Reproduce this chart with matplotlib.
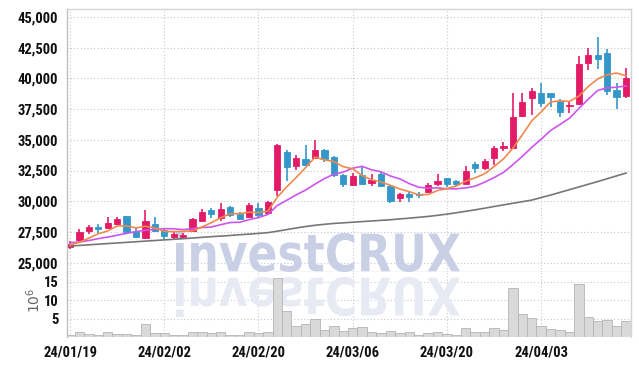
import matplotlib.pyplot as plt
import matplotlib.transforms as mtransforms
from matplotlib.font_manager import FontProperties
from matplotlib.patches import PathPatch
from matplotlib.textpath import TextPath

# trading days (yy/mm/dd)
dates = ['24/01/19', '24/01/22', '24/01/23', '24/01/24', '24/01/25', '24/01/26', '24/01/29', '24/01/30',
         '24/01/31', '24/02/01', '24/02/02', '24/02/05', '24/02/06', '24/02/07', '24/02/08', '24/02/13',
         '24/02/14', '24/02/15', '24/02/16', '24/02/19', '24/02/20', '24/02/21', '24/02/22', '24/02/23',
         '24/02/26', '24/02/27', '24/02/28', '24/02/29', '24/03/04', '24/03/05', '24/03/06', '24/03/07',
         '24/03/08', '24/03/11', '24/03/12', '24/03/13', '24/03/14', '24/03/15', '24/03/18', '24/03/19',
         '24/03/20', '24/03/21', '24/03/22', '24/03/25', '24/03/26', '24/03/27', '24/03/28', '24/03/29',
         '24/04/01', '24/04/02', '24/04/03', '24/04/04', '24/04/05', '24/04/08', '24/04/09', '24/04/11',
         '24/04/12', '24/04/15', '24/04/16', '24/04/17']

opens = [26250, 26850, 27600, 27900, 27850, 28170, 28800, 27570, 27030, 28140,
         27650, 27080, 27110, 27570, 28410, 29260, 28600, 29530, 28980, 28690,
         29450, 29020, 30940, 34000, 32890, 33440, 33540, 34170, 33600, 32130,
         31340, 32110, 31510, 32240, 31240, 30290, 30610, 30590, 30730, 31380,
         31890, 31650, 31430, 33000, 32730, 33490, 34360, 34360, 36970, 38380,
         38810, 38810, 38160, 37750, 37890, 41230, 41910, 42070, 39050, 38590]
highs = [26800, 27700, 28100, 28150, 28700, 28700, 28800, 27800, 29280, 28700,
         27750, 27500, 27400, 28610, 29340, 29470, 29880, 29590, 29100, 29830,
         29850, 29990, 34630, 34170, 33740, 34550, 34960, 34230, 33680, 32220,
         32270, 32760, 32240, 32480, 31320, 30690, 30780, 30780, 31460, 32190,
         31920, 31700, 32890, 33220, 33410, 34470, 34800, 38790, 38790, 39190,
         39600, 38850, 38320, 38050, 41850, 42450, 43400, 42390, 39630, 40820]
lows = [26100, 26650, 27300, 27450, 27750, 28100, 27480, 27000, 26950, 27470,
        26950, 26950, 27030, 27490, 28330, 28610, 28400, 28700, 28560, 28610,
        28630, 28930, 30420, 31620, 32570, 32840, 33440, 33220, 31970, 31180,
        31260, 31300, 31240, 31180, 29880, 29910, 29910, 30240, 30640, 31210,
        31180, 31260, 31380, 32270, 32540, 32950, 34090, 34310, 36860, 37020,
        37650, 37700, 36830, 37160, 37830, 40680, 40740, 38650, 37480, 38380]
closes = [26500, 27500, 27900, 27750, 28230, 28550, 27500, 27110, 28390, 27550,
          27200, 27350, 27270, 28550, 29120, 28980, 29370, 28880, 28580, 29690,
          28880, 29910, 34580, 32790, 33490, 32920, 34170, 33440, 32130, 31400,
          32050, 31430, 31730, 31240, 30020, 30560, 30340, 30480, 31320, 31640,
          31380, 31380, 32460, 32680, 33270, 34310, 34500, 36860, 38050, 38970,
          38020, 38510, 37290, 37830, 41150, 41910, 41600, 39000, 38510, 40060]
volume = [600000, 1500000, 950000, 600000, 1500000, 950000, 1000000, 600000, 3650000, 1200000,
          1200000, 600000, 600000, 1500000, 1500000, 1200000, 1500000, 600000, 600000, 1500000,
          1200000, 1500000, 16000000, 7200000, 3100000, 3650000, 4900000, 2000000, 3100000, 1750000,
          2500000, 2750000, 1500000, 1200000, 1750000, 1200000, 1500000, 600000, 1200000, 1500000,
          950000, 600000, 2500000, 1500000, 1500000, 2500000, 2000000, 13300000, 6350000, 5300000,
          3100000, 2300000, 2000000, 1500000, 14450000, 5550000, 4450000, 4700000, 3100000, 4450000]

# moving averages as drawn on the chart
ma5 = [26450, 26650, 27000, 27350, 27576, 27986, 27986, 27828, 27956, 27820,
       27550, 27520, 27552, 27584, 27898, 28254, 28658, 28980, 28986, 29100,
       29080, 29188, 30328, 31170, 31930, 32738, 33590, 33362, 33230, 32812,
       32638, 32090, 31748, 31570, 31294, 30996, 30778, 30528, 30544, 30868,
       31032, 31240, 31636, 31908, 32234, 32820, 33444, 34324, 35398, 36538,
       37280, 38082, 38168, 38124, 38560, 39338, 39956, 40298, 40434, 40216]
ma10 = [26620, 26680, 26800, 26950, 27080, 27230, 27380, 27520, 27640, 27698,
        27768, 27753, 27690, 27770, 27859, 27902, 28089, 28266, 28285, 28499,
        28667, 28923, 29654, 30078, 30515, 30909, 31389, 31845, 32200, 32371,
        32688, 32840, 32555, 32400, 32053, 31817, 31434, 31138, 31057, 31081,
        31014, 31009, 31082, 31226, 31551, 31926, 32342, 32980, 33653, 34386,
        35050, 35763, 36246, 36761, 37549, 38309, 39019, 39233, 39279, 39388]
ma60 = [26350, 26400, 26450, 26500, 26550, 26600, 26650, 26700, 26750, 26800,
        26850, 26900, 26950, 27000, 27060, 27110, 27160, 27210, 27270, 27320,
        27380, 27440, 27560, 27690, 27820, 27940, 28040, 28120, 28190, 28240,
        28290, 28340, 28390, 28440, 28490, 28560, 28620, 28690, 28760, 28850,
        28950, 29060, 29180, 29300, 29430, 29570, 29700, 29830, 29960, 30090,
        30300, 30500, 30720, 30940, 31160, 31380, 31600, 31830, 32060, 32290]

tick_dates = ['24/01/19', '24/02/02', '24/02/20', '24/03/06', '24/03/20', '24/04/03']
price_ticks = [25000, 27500, 30000, 32500, 35000, 37500, 40000, 42500, 45000]
vol_ticks = [5, 10, 15]

UP = '#e31b67'
DOWN = '#3497c9'
GRID = '#c5c8d8'
tick_font = ['Roboto Condensed', 'Roboto', 'DejaVu Sans']

fig = plt.figure(figsize=(6.39, 3.66), dpi=100)
ax = fig.add_axes([0.1044, 0.2568, 0.8826, 0.7186])
axv = fig.add_axes([0.1044, 0.0779, 0.8826, 0.1789], sharex=ax)

x = list(range(len(dates)))

# candles
for i in x:
    col = UP if closes[i] >= opens[i] else DOWN
    ax.vlines(i, lows[i], highs[i], color=col, linewidth=1.2, zorder=2)
    ax.bar(i, abs(closes[i] - opens[i]), bottom=min(opens[i], closes[i]), width=0.66,
           color=col, edgecolor=col, linewidth=0.6, zorder=2)

ax.plot(x, ma60, color='#777777', linewidth=1.2, zorder=3)
ax.plot(x, ma10, color='#cc55ee', linewidth=1.2, zorder=3)
ax.plot(x, ma5, color='#f0894c', linewidth=1.2, zorder=3)

# volume
axv.bar(x, [v / 1e6 for v in volume], width=1.0, color='#d9d9d9', edgecolor='#b5b5b5',
        linewidth=0.6, zorder=2)

ax.set_xlim(-0.35, 59.5)
ax.set_ylim(24235, 45650)
axv.set_ylim(0, 17.7)

tick_pos = [dates.index(d) for d in tick_dates]
ax.set_yticks(price_ticks)
ax.set_yticklabels([f'{p:,}' for p in price_ticks])
axv.set_yticks(vol_ticks)
axv.set_yticklabels([str(v) for v in vol_ticks])
axv.set_xticks(tick_pos)
axv.set_xticklabels(tick_dates)
ax.tick_params(axis='x', labelbottom=False, length=0)

for a in (ax, axv):
    a.grid(True, linestyle=(0, (1, 2)), color=GRID, linewidth=0.8, zorder=0)
    a.set_axisbelow(True)
    a.tick_params(length=0, pad=6, labelsize=10.5, labelcolor='#111111')
    for lab in a.get_xticklabels() + a.get_yticklabels():
        lab.set_family(tick_font)
        lab.set_fontweight('bold')
    for s in a.spines.values():
        s.set_color('#d4d4d4')
        s.set_linewidth(1.0)
    a.spines['left'].set_color('#c0c0c0')
axv.spines['bottom'].set_visible(False)
axv.spines['top'].set_visible(False)

fig.text(0.052, 0.18, r'$10^6$', rotation=90, ha='center', va='center', fontsize=10, color='#666666')

# watermark with reflection
tp = TextPath((0, 0), 'investCRUX', size=1, prop=FontProperties(family='DejaVu Sans', weight='bold'))
bb = tp.get_extents()
sx = (4.60 - 1.76) / bb.width
sy = (1.34 - 0.94) / bb.height
main_tr = mtransforms.Affine2D().translate(-bb.x0, -bb.y0).scale(sx, sy).translate(1.76, 0.94) + fig.dpi_scale_trans
refl_tr = mtransforms.Affine2D().translate(-bb.x0, -bb.y0).scale(sx, -sy).translate(1.76, 0.89) + fig.dpi_scale_trans
ax.add_patch(PathPatch(tp, transform=main_tr, facecolor='#c9d0e6', edgecolor='none', zorder=1, clip_on=False))
axv.add_patch(PathPatch(tp, transform=refl_tr, facecolor='#e7eaf3', edgecolor='none', zorder=1, clip_on=True))

fig.savefig('out.png', dpi=100)
plt.close(fig)
